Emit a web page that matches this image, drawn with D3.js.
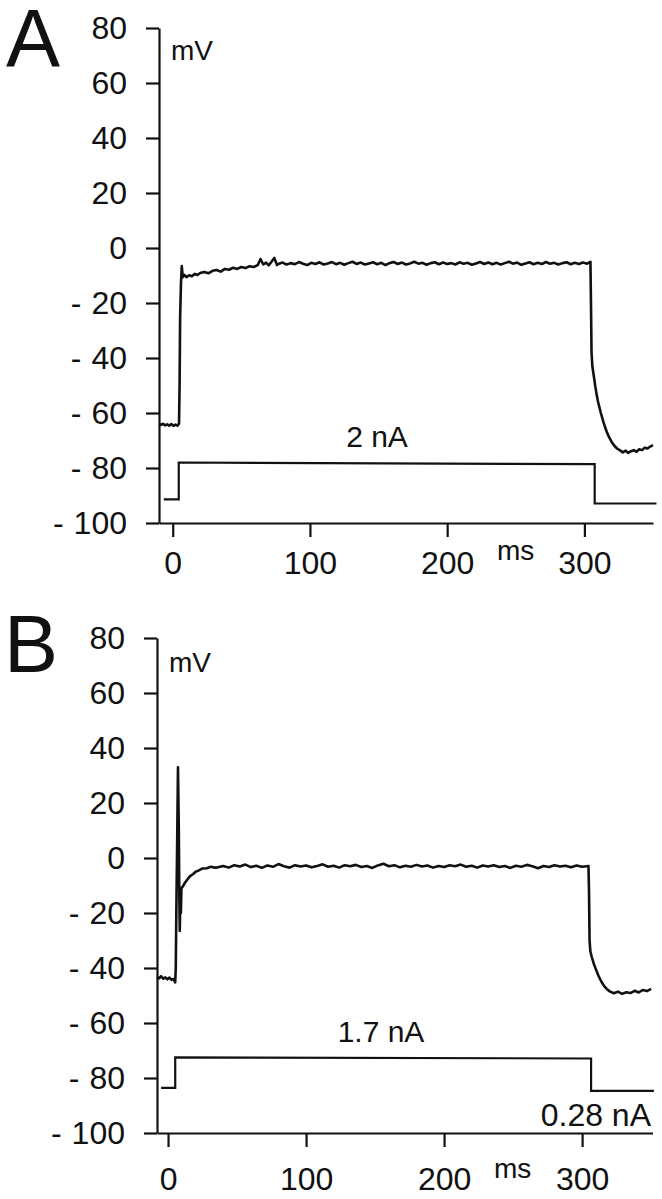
<!DOCTYPE html>
<html>
<head>
<meta charset="utf-8">
<script src="https://cdn.jsdelivr.net/npm/d3@7"></script>
<style>
  body { margin: 0; background: #fff; }
  svg text { font-family: "Liberation Sans", Arial, sans-serif; fill: #111; }
</style>
</head>
<body>
<div id="viz"></div>
<script>
// tick values shared by both panels
const yTicks = [80, 60, 40, 20, 0, -20, -40, -60, -80, -100];
const xTicks = [0, 100, 200, 300];

// panel A: membrane voltage (ms, mV)
const voltA = [
  [-10,-64.0],[-8.5,-64.3],[-7,-63.9],[-5.5,-64.5],[-4,-64.1],[-2.5,-64.6],[-1,-64.0],[0.5,-64.7],
  [2,-64.2],[3.5,-64.6],[4.6,-63.8],[5.0,-50],[5.4,-25],[6.0,-13],[6.6,-6.6],[7.3,-10.6],[8.5,-9.8],
  [10,-10.6],[12,-9.9],[14,-10.3],[16,-9.4],[18,-9.8],[20,-9.1],[23,-8.7],[26,-9.2],[29,-8.3],[32,-8.0],
  [35,-8.6],[38,-7.6],[41,-7.9],[44,-7.2],[47,-7.6],[50,-6.9],[53,-7.3],[56,-6.6],[59,-6.9],[62,-6.2],
  [64,-4.0],[66,-6.0],[68,-5.3],[70,-6.3],[72,-5.0],[74,-3.6],[76,-6.2],
  [77,-5.8],[80,-5.3],[83,-6.0],[86,-5.5],[89,-5.9],[92,-5.1],[95,-5.7],[98,-6.2],[101,-5.4],[104,-5.8],
  [107,-5.2],[110,-6.0],[113,-5.6],[116,-5.1],[119,-5.9],[122,-5.4],[125,-6.1],[128,-5.5],[131,-5.0],
  [134,-5.8],[137,-5.3],[140,-6.0],[143,-5.6],[146,-5.2],[149,-5.9],[152,-5.4],[155,-6.2],[158,-5.5],
  [161,-5.1],[164,-5.8],[167,-5.3],[170,-6.0],[173,-5.6],[176,-5.0],[179,-5.7],[182,-5.4],[185,-6.1],
  [188,-5.5],[191,-5.2],[194,-5.9],[197,-5.3],[200,-5.8],[203,-5.5],[206,-6.0],[209,-5.2],[212,-5.7],
  [215,-5.4],[218,-6.1],[221,-5.6],[224,-5.1],[227,-5.8],[230,-5.3],[233,-5.9],[236,-5.4],[239,-6.0],
  [242,-5.5],[245,-5.0],[248,-5.7],[251,-5.3],[254,-6.1],[257,-5.6],[260,-5.2],[263,-5.9],[266,-5.4],
  [269,-5.8],[272,-5.1],[275,-5.7],[278,-5.4],[281,-6.0],[284,-5.5],[287,-5.2],[290,-5.9],[293,-5.4],
  [296,-5.8],[299,-5.3],[302,-5.7],[304.4,-5.0],
  [304.8,-20],[305.2,-38],[305.8,-43],[307,-47],[308,-50.5],[309,-53.5],[310,-56],[312,-60],[314,-63.5],
  [316,-66.5],[318,-68.8],[320,-70.6],[322,-72],[324,-73],[326,-73.6],[328,-74.3],[330,-73.7],[332,-74.5],
  [334,-73.9],[336,-73.5],[338,-74.1],[340,-73.2],[342,-73.5],[344,-72.6],[346,-72.9],[348,-72.2],[350,-71.7]
];
// panel A: injected current, drawn on the voltage scale
const currentA = [[-6.5,-91.4],[4.4,-91.4],[4.4,-78.0],[307.5,-78.6],[307.5,-92.9],[352.5,-92.9]];

// panel B: membrane voltage (ms, mV)
const voltB = [
  [-8,-43.2],[-6.5,-43.8],[-5,-43.0],[-3.5,-43.9],[-2,-43.4],[-0.5,-44.1],[1,-43.5],[2.5,-44.3],
  [4,-44.0],[5.2,-45.2],[5.6,-40],[6.0,-20],[6.6,5],[7.2,33],[7.8,10],[8.2,-15],[8.5,-26.5],[8.9,-14],
  [9.3,-20],[9.7,-11],[10.5,-10.5],[12,-9.2],[14,-7.8],[16,-6.6],[18,-5.9],[20,-5.0],[22,-4.6],[25,-3.8],
  [28,-3.7],[31,-3.2],[34,-3.5],
  [36,-3.4],[40,-2.9],[44,-3.5],[48,-2.6],[52,-3.1],[56,-2.4],[60,-3.3],[64,-2.8],[68,-3.6],[72,-2.7],
  [76,-3.2],[80,-2.2],[84,-3.0],[88,-3.5],[92,-2.6],[96,-3.1],[100,-2.7],[104,-3.4],[108,-2.9],[112,-2.3],
  [116,-3.2],[120,-2.8],[124,-3.5],[128,-2.6],[132,-3.0],[136,-2.5],[140,-3.3],[144,-2.9],[148,-3.6],
  [152,-2.7],[156,-2.1],[160,-3.0],[164,-2.6],[168,-3.4],[172,-2.8],[176,-3.2],[180,-2.5],[184,-3.1],
  [188,-2.7],[192,-3.5],[196,-2.9],[200,-3.3],[204,-2.6],[208,-3.0],[212,-2.4],[216,-3.2],[220,-2.8],
  [224,-3.5],[228,-2.7],[232,-3.1],[236,-2.6],[240,-3.3],[244,-2.9],[248,-3.6],[252,-2.8],[256,-3.2],
  [260,-2.5],[264,-3.0],[268,-3.7],[272,-2.9],[276,-3.3],[280,-2.6],[284,-3.1],[288,-2.8],[292,-3.4],
  [296,-2.7],[300,-3.2],[304.6,-2.9],
  [305,-12],[305.4,-30],[306,-34],[307,-36],[308.5,-38.5],[310,-40.5],[312,-43],[314,-45],[316,-46.6],
  [318,-47.7],[320,-48.5],[323,-49.2],[326,-48.6],[329,-49.4],[332,-48.8],[335,-49.1],[338,-48.3],
  [341,-48.9],[344,-48.0],[347,-48.4],[350,-47.6]
];
const currentB = [[-5,-83.6],[5.2,-83.6],[5.2,-72.5],[306.5,-72.9],[306.5,-84.7],[352,-84.7]];

// text labels
const panelNames = ["A", "B"];
const stepLabels = ["2 nA", "1.7 nA"];
const holdLabelB = "0.28 nA";

const svg = d3.select("#viz")
  .append("svg")
    .attr("width", 662)
    .attr("height", 1199);

// layout per panel (pixels)
const layouts = [
  {xDom: [-10, 350], xRange: [159, 653], yRange: [523, 28], xPad: 14,
   letter: [6, 66], mv: [171, 60], ms: [497, 560], step: [377, 447]},
  {xDom: [-8, 351], xRange: [157, 652.5], yRange: [1133, 638], xPad: 20,
   letter: [4, 672], mv: [169, 672], ms: [494, 1178], step: [381, 1042]}
];
const volts = [voltA, voltB];
const currents = [currentA, currentB];

layouts.forEach(function(L, i) {
  const x = d3.scaleLinear().domain(L.xDom).range(L.xRange);
  const y = d3.scaleLinear().domain([-100, 80]).range(L.yRange);
  const g = svg.append("g");

  // y axis
  const ya = g.append("g")
      .attr("transform", `translate(${L.xRange[0]},0)`)
      .call(d3.axisLeft(y).tickValues(yTicks).tickSize(13).tickSizeOuter(0)
        .tickPadding(19).tickFormat(d => String(d)));

  // x axis
  const xa = g.append("g")
      .attr("transform", `translate(0,${L.yRange[0]})`)
      .call(d3.axisBottom(x).tickValues(xTicks).tickSize(14).tickSizeOuter(0)
        .tickPadding(L.xPad).tickFormat(d => String(d)));

  [ya, xa].forEach(function(a) {
    a.select(".domain").attr("stroke", "#111").attr("stroke-width", 2.2);
    a.selectAll(".tick line").attr("stroke", "#111").attr("stroke-width", 2.2);
    a.selectAll(".tick text").attr("font-size", 32).attr("fill", "#111")
      .style("font-family", "'Liberation Sans', Arial, sans-serif");
  });

  // negative labels: the minus sign sits a little apart from the digits
  ya.selectAll(".tick text").filter(d => d < 0).each(function(d) {
    const t = d3.select(this).text(null);
    t.append("tspan").text("-");
    t.append("tspan").attr("dx", 10).text(String(Math.abs(d)));
  });

  const line = d3.line()
      .x(function(d) { return x(d[0]); })
      .y(function(d) { return y(d[1]); });

  g.append("path")
      .datum(volts[i])
      .attr("fill", "none")
      .attr("stroke", "#111")
      .attr("stroke-width", 2.6)
      .attr("stroke-linejoin", "round")
      .attr("d", line);

  g.append("path")
      .datum(currents[i])
      .attr("fill", "none")
      .attr("stroke", "#111")
      .attr("stroke-width", 2.2)
      .attr("d", line);

  g.append("text").attr("x", L.letter[0]).attr("y", L.letter[1])
      .attr("font-size", 81).text(panelNames[i]);
  g.append("text").attr("x", L.mv[0]).attr("y", L.mv[1])
      .attr("font-size", 28).text("mV");
  g.append("text").attr("x", L.ms[0]).attr("y", L.ms[1])
      .attr("font-size", 28).text("ms");
  g.append("text").attr("x", L.step[0]).attr("y", L.step[1])
      .attr("text-anchor", "middle").attr("font-size", 30).text(stepLabels[i]);

  if (i === 1) {
    g.append("text").attr("x", 651).attr("y", 1126)
        .attr("text-anchor", "end").attr("font-size", 32).text(holdLabelB);
  }
});
</script>
</body>
</html>
